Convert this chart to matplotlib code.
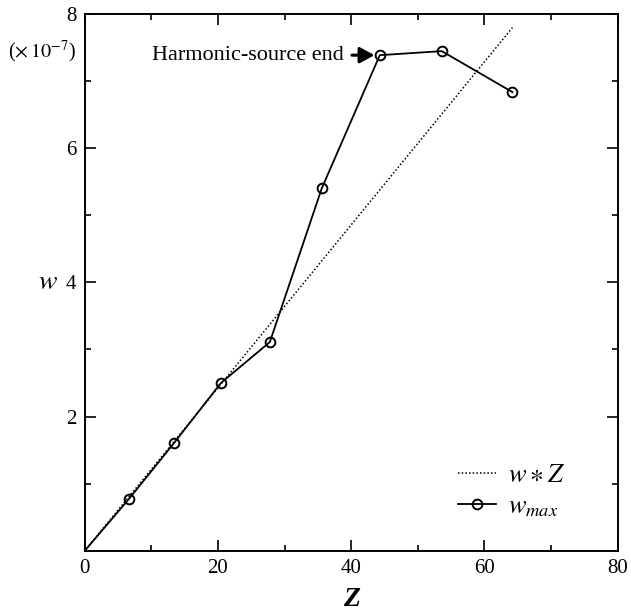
import numpy as np
import matplotlib.pyplot as plt
from matplotlib.ticker import MultipleLocator, FixedLocator

plt.rcParams['font.family'] = ['Liberation Serif', 'DejaVu Serif']
plt.rcParams['mathtext.fontset'] = 'stix'

# w_max measured points (w in units of 1e-7)
z_max = [0.0, 6.7, 13.45, 20.45, 27.8, 35.6, 44.3, 53.6, 64.2]
w_max = [0.0, 0.78, 1.61, 2.50, 3.11, 5.40, 7.38, 7.44, 6.83]

# reference line w* Z
z_ref = [0.0, 64.2]
w_ref = [0.0, 7.79]

fig = plt.figure(figsize=(6.31, 6.14), dpi=100)
ax = fig.add_axes([0.134, 0.1026, 0.845, 0.8754])

ax.plot(z_ref, w_ref, color='black', linestyle=(0, (1, 1.4)), linewidth=1.1, label=r'$w \ast Z$')
ax.plot(z_max, w_max, color='black', linewidth=1.3, marker='o', markersize=7,
        markerfacecolor='none', markeredgewidth=1.4, markevery=list(range(1, len(z_max))),
        label=r'$w_{max}$')

ax.set_xlim(0, 80)
ax.set_ylim(0, 8)
ax.xaxis.set_major_locator(MultipleLocator(20))
ax.xaxis.set_minor_locator(MultipleLocator(10))
ax.yaxis.set_major_locator(FixedLocator([2, 4, 6, 8]))
ax.yaxis.set_minor_locator(FixedLocator([1, 3, 5, 7]))

ax.tick_params(which='both', direction='in', top=True, right=True, width=1.2, labelsize=15)
ax.tick_params(which='major', length=8)
ax.tick_params(which='minor', length=4.5)
ax.tick_params(axis='x', pad=6)
ax.tick_params(axis='y', pad=6)
for s in ax.spines.values():
    s.set_linewidth(1.4)

ax.set_xlabel('Z', fontsize=20, fontstyle='italic', fontweight='bold', va='center')
ax.xaxis.set_label_coords(0.5, -0.091)
ax.set_ylabel(r'$w$', fontsize=20, rotation=0, va='center')
ax.yaxis.set_label_coords(-0.068, 0.5)

fig.text(0.012, 0.915, r'($\times\,10^{-7}$)', fontsize=14.5, va='center', ha='left')

ax.annotate('Harmonic-source end', xy=(z_max[6] - 0.8, w_max[6]), xytext=(10.1, w_max[6]),
            fontsize=16, va='center', ha='left',
            arrowprops=dict(arrowstyle='-|>,head_length=0.55,head_width=0.3', color='black',
                            lw=2.2, shrinkA=4, shrinkB=0))

leg = ax.legend(loc='lower right', bbox_to_anchor=(0.945, 0.015), frameon=False, fontsize=19,
                handlelength=1.45, handletextpad=0.45, labelspacing=0.3)

fig.savefig('out.png', dpi=100)
